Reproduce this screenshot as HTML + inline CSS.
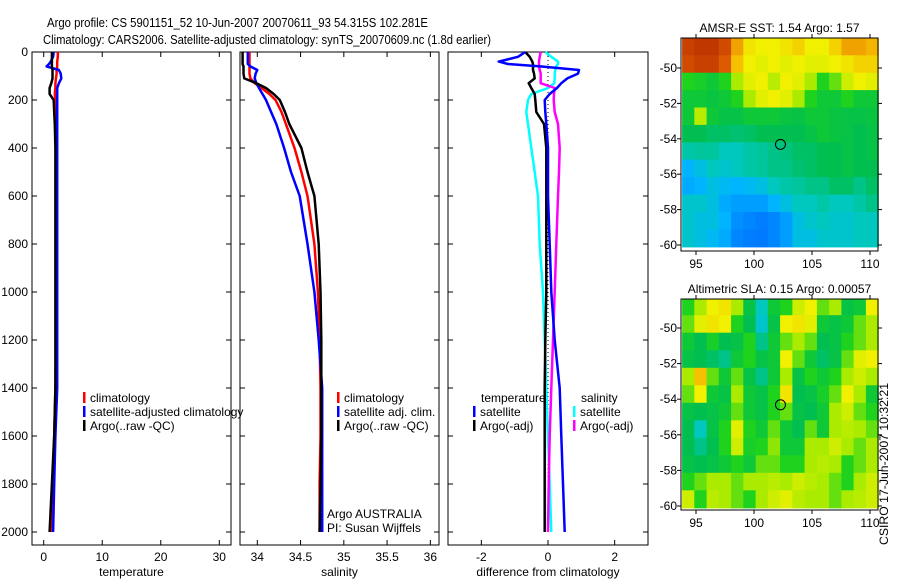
<!DOCTYPE html>
<html><head><meta charset="utf-8"><style>
body{margin:0;background:#fff}
svg{display:block;font-family:"Liberation Sans",sans-serif}
text{fill:#000}
</style></head><body>
<svg id="c" width="900" height="580" viewBox="0 0 900 580">
<text x="47" y="27" font-size="13" textLength="381" lengthAdjust="spacingAndGlyphs">Argo profile: CS 5901151_52 10-Jun-2007 20070611_93 54.315S 102.281E</text>
<text x="43" y="44" font-size="13" textLength="448" lengthAdjust="spacingAndGlyphs">Climatology: CARS2006. Satellite-adjusted climatology: synTS_20070609.nc (1.8d earlier)</text>
<text x="888" y="545" font-size="12" transform="rotate(-90 888 545)" textLength="162" lengthAdjust="spacingAndGlyphs">CSIRO 17-Jun-2007 10:32:21</text>
</svg>
<script>
// ---- profile data ----
const depths = [0,20,40,50,60,75,90,110,130,150,175,200,250,300,400,500,600,800,1000,1200,1400,1600,1800,2000];
const tempClim = [2.4,2.4,2.3,2.3,2.3,2.2,2.2,2.1,2.0,2.0,1.9,2.0,2.1,2.2,2.2,2.2,2.2,2.2,2.2,2.1,2.0,1.8,1.5,1.2];
const tempSat  = [1.7,1.6,1.2,0.9,0.5,2.6,2.9,3.0,2.6,2.3,2.3,2.3,2.3,2.3,2.3,2.3,2.3,2.3,2.3,2.3,2.3,2.0,1.8,1.6];
const tempArgo = [1.4,1.4,1.4,1.4,1.4,1.5,1.5,1.5,1.3,1.0,1.0,1.7,1.8,1.9,2.0,2.0,2.0,2.0,2.0,2.0,2.0,1.8,1.4,1.0];
const salClim = [33.91,33.91,33.91,33.91,33.91,33.91,33.91,33.92,33.97,34.05,34.14,34.21,34.28,34.33,34.43,34.51,34.58,34.66,34.70,34.72,34.73,34.73,34.72,34.72];
const salSat  = [33.89,33.89,33.89,33.89,33.92,34.00,33.98,33.97,33.99,34.02,34.06,34.10,34.16,34.22,34.31,34.39,34.49,34.58,34.66,34.71,34.75,34.75,34.75,34.75];
const salArgo = [33.83,33.83,33.83,33.83,33.84,33.84,33.84,33.85,33.99,34.10,34.19,34.26,34.32,34.37,34.51,34.58,34.66,34.71,34.73,34.74,34.74,34.74,34.73,34.72];
const diffTSat  = [-0.68,-0.9,-1.48,-1.2,-0.23,0.93,0.9,0.58,0.4,0.27,0.05,-0.1,-0.08,-0.05,0.0,0.0,0.0,0.05,0.1,0.2,0.35,0.4,0.45,0.5];
const diffTArgo = [-0.68,-0.55,-0.47,-0.45,-0.45,-0.45,-0.42,-0.4,-0.58,-0.5,-0.4,-0.38,-0.35,-0.12,-0.05,-0.05,-0.05,-0.05,-0.05,-0.08,-0.1,-0.1,-0.1,-0.1];
const diffSSat  = [-0.08,0.1,0.3,0.3,0.25,0.22,0.2,0.2,0.19,0.0,-0.5,-0.6,-0.65,-0.6,-0.5,-0.4,-0.3,-0.25,-0.15,-0.1,-0.05,0.0,0.05,0.1];
const diffSArgo = [-0.22,-0.25,-0.27,-0.27,-0.27,-0.25,-0.22,-0.22,-0.22,0.2,0.18,0.17,0.2,0.3,0.35,0.33,0.3,0.25,0.2,0.15,0.1,0.05,0.02,0.0];
const depthTicks = [0,200,400,600,800,1000,1200,1400,1600,1800,2000];
const tempTicks = [0,10,20,30];
const salTicks = [34,34.5,35,35.5,36];
const salTickLabels = ["34","34.5","35","35.5","36"];
const diffTicks = [-2,0,2];
// ---- map data (rows north->south, cols west->east) ----
const sstGrid = [
[.95,.97,.97,.93,.82,.72,.7,.7,.72,.75,.7,.7,.75,.82,.82,.8],
[.93,.95,.95,.9,.78,.7,.68,.7,.68,.7,.68,.68,.7,.72,.75,.75],
[.5,.48,.45,.5,.6,.68,.7,.62,.7,.68,.6,.5,.55,.65,.7,.68],
[.45,.45,.43,.45,.5,.6,.68,.7,.68,.6,.5,.45,.45,.5,.45,.45],
[.45,.62,.45,.42,.42,.45,.45,.45,.43,.42,.45,.45,.43,.42,.42,.43],
[.4,.4,.38,.38,.37,.38,.4,.4,.4,.4,.42,.45,.43,.42,.4,.42],
[.32,.33,.33,.3,.3,.32,.33,.35,.36,.38,.38,.4,.4,.42,.4,.42],
[.2,.25,.3,.28,.3,.32,.33,.35,.35,.37,.38,.4,.4,.42,.4,.4],
[.18,.2,.25,.22,.2,.22,.25,.3,.32,.33,.35,.35,.38,.38,.35,.38],
[.28,.28,.25,.18,.15,.15,.15,.2,.25,.3,.3,.32,.3,.3,.32,.35],
[.28,.25,.25,.2,.12,.1,.08,.1,.15,.25,.28,.3,.28,.28,.3,.3],
[.28,.25,.22,.18,.1,.08,.07,.1,.15,.25,.25,.28,.28,.28,.3,.3]];
const slaGrid = [
[.5,.6,.7,.72,.6,.42,.3,.45,.5,.65,.7,.55,.6,.42,.45,.7],
[.55,.68,.72,.7,.5,.4,.28,.42,.7,.72,.68,.45,.42,.45,.55,.6],
[.45,.4,.48,.4,.42,.5,.35,.45,.55,.6,.55,.4,.42,.5,.55,.6],
[.42,.4,.38,.35,.45,.5,.42,.45,.7,.55,.45,.38,.42,.55,.68,.7],
[.6,.78,.55,.45,.55,.42,.35,.45,.6,.42,.5,.45,.5,.6,.65,.6],
[.55,.7,.45,.42,.6,.45,.42,.5,.72,.4,.42,.48,.55,.7,.6,.45],
[.42,.4,.42,.45,.55,.45,.42,.5,.55,.42,.4,.45,.6,.65,.55,.5],
[.4,.3,.42,.5,.68,.5,.45,.55,.45,.4,.55,.45,.6,.62,.6,.55],
[.4,.35,.4,.5,.65,.48,.5,.58,.45,.45,.6,.6,.65,.6,.55,.6],
[.42,.4,.42,.45,.5,.45,.55,.55,.5,.5,.6,.62,.6,.5,.55,.6],
[.5,.55,.6,.6,.55,.6,.6,.62,.6,.65,.62,.6,.55,.5,.6,.65],
[.65,.5,.62,.6,.55,.5,.6,.65,.68,.62,.6,.6,.55,.6,.62,.65]];
const latTicks = [-50,-52,-54,-56,-58,-60];
const lonTicks = [95,100,105,110];
const argoLon = 102.281, argoLat = -54.315;

const NS="http://www.w3.org/2000/svg", svg=document.getElementById('c');
function mk(tag,at,parent){const e=document.createElementNS(NS,tag);for(const k in at)e.setAttribute(k,at[k]);(parent||svg).appendChild(e);return e;}
function txt(x,y,s,anchor,size){const t=mk('text',{x:x,y:y,'font-size':size||12,'text-anchor':anchor||'start'});t.textContent=s;return t;}

const yD = d => 52 + d*0.24;
const panels = [
 {name:'temperature',x0:32,x1:231,lo:-2,hi:32,ticks:tempTicks,labels:tempTicks.map(String),xl:'temperature'},
 {name:'salinity',x0:240,x1:439,lo:33.8,hi:36.1,ticks:salTicks,labels:salTickLabels,xl:'salinity'},
 {name:'difference',x0:448,x1:648,lo:-3,hi:3,ticks:diffTicks,labels:diffTicks.map(String),xl:'difference from climatology'}];
panels.forEach((p,i)=>{
  p.sx = v => p.x0 + (v-p.lo)/(p.hi-p.lo)*(p.x1-p.x0);
  const g=mk('g',{});
  
  
  p.g=g;
  const r=mk('rect',{x:p.x0,y:52,width:p.x1-p.x0,height:493,fill:'none',stroke:'#000','stroke-width':1},g);
  
  
  depthTicks.forEach(d=>{
    mk('line',{x1:p.x0,x2:p.x0+5,y1:yD(d),y2:yD(d),stroke:'#000'},g);
    mk('line',{x1:p.x1,x2:p.x1-5,y1:yD(d),y2:yD(d),stroke:'#000'},g);
    if(i===0){const t=txt(28,yD(d)+4,String(d),'end');
      
      }
  });
  p.ticks.forEach((v,k)=>{
    const x=p.sx(v);
    mk('line',{x1:x,x2:x,y1:52,y2:57,stroke:'#000'},g);
    mk('line',{x1:x,x2:x,y1:545,y2:540,stroke:'#000'},g);
    const t=txt(x,561,p.labels[k],'middle');
    
    
  });
  const xl=txt((p.x0+p.x1)/2,576,p.xl,'middle');
  
  
});
function line(p,vals,col,name,w){
  const pts=vals.map((v,k)=>p.sx(v).toFixed(1)+','+yD(depths[k]).toFixed(1)).join(' ');
  const l=mk('polyline',{points:pts,fill:'none',stroke:col,'stroke-width':w||2.5,'stroke-linejoin':'round'},p.g);
  
  
}
const [pT,pS,pD]=panels;
// zero line in diff panel
const z=mk('line',{x1:pD.sx(0),x2:pD.sx(0),y1:52,y2:yD(2000),stroke:'#000','stroke-dasharray':'1,3'},pD.g);


line(pT,tempClim,'#f00','temp-climatology-line');
line(pT,tempSat,'#00f','temp-satellite-line');
line(pT,tempArgo,'#000','temp-argo-line');
line(pS,salClim,'#f00','sal-climatology-line');
line(pS,salSat,'#00f','sal-satellite-line');
line(pS,salArgo,'#000','sal-argo-line');
line(pD,diffSSat,'#0ff','diff-sal-satellite-line');
line(pD,diffSArgo,'#f0f','diff-sal-argo-line');
line(pD,diffTArgo,'#000','diff-temp-argo-line');
line(pD,diffTSat,'#00f','diff-temp-satellite-line');

function legend(x,y,col,label,name){
  if(col){const r=mk('rect',{x:x,y:y-10,width:2.5,height:11,fill:col});
    
    }
  const t=txt(x+7,y,label,'start',12);
  
  
}
legend(83,402,'#f00','climatology','legend-climatology');
legend(83,416,'#00f','satellite-adjusted climatology','legend-satellite-adjusted');
legend(83,430,'#000','Argo(..raw -QC)','legend-argo');
legend(337,402,'#f00','climatology','legend-sal-climatology');
legend(337,416,'#00f','satellite adj. clim.','legend-sal-satellite');
legend(337,430,'#000','Argo(..raw -QC)','legend-sal-argo');
legend(474,402,null,'temperature','legend-temperature-header');
legend(473,416,'#00f','satellite','legend-diff-temp-satellite');
legend(473,430,'#000','Argo(-adj)','legend-diff-temp-argo');
legend(574,402,null,'salinity','legend-salinity-header');
legend(573,416,'#0ff','satellite','legend-diff-sal-satellite');
legend(573,430,'#f0f','Argo(-adj)','legend-diff-sal-argo');
const a1=txt(327,518,'Argo AUSTRALIA','start',12);


const a2=txt(327,532,'PI: Susan Wijffels','start',12);



// ---- maps ----
const stops=[[0,[0,90,255]],[.2,[0,180,255]],[.3,[0,200,190]],[.4,[0,190,80]],[.5,[30,210,30]],[.6,[170,235,0]],[.7,[240,240,0]],[.8,[245,180,0]],[.9,[220,90,0]],[1,[180,40,0]]];
function cmap(v){for(let i=1;i<stops.length;i++){if(v<=stops[i][0]){const [a,ca]=stops[i-1],[b,cb]=stops[i];const f=(v-a)/(b-a);return 'rgb('+ca.map((c,k)=>Math.round(c+(cb[k]-c)*f)).join(',')+')';}}return 'rgb(180,40,0)';}
function map(name,title,grid,top,bot,lat50y,lat60y){
  const x0=681,x1=878;
  const sx=lon=>696+(lon-95)*11.6;
  const sy=lat=>lat50y+(-50-lat)*(lat60y-lat50y)/10;
  const g=mk('g',{});
  
  
  const t=txt((x0+x1)/2,top-6,title,'middle',12);
  
  
  const lonA=93.8,lonB=110.7,latA=-48.3,latB=-60.1;
  const nr=grid.length,nc=grid[0].length;
  grid.forEach((row,r)=>row.forEach((v,c)=>{
    const xa=sx(lonA+(lonB-lonA)*c/nc), xb=sx(lonA+(lonB-lonA)*(c+1)/nc);
    const ya=Math.max(top,sy(latA+(latB-latA)*r/nr)), yb=sy(latA+(latB-latA)*(r+1)/nr);
    const cell=mk('rect',{x:xa.toFixed(1),y:ya.toFixed(1),width:(xb-xa+0.6).toFixed(1),height:(yb-ya+0.6).toFixed(1),fill:cmap(v)},g);
    
    
  }));
  const fr=mk('rect',{x:x0,y:top,width:x1-x0,height:bot-top,fill:'none',stroke:'#000'},g);
  
  
  latTicks.forEach(l=>{const y=sy(l);
    mk('line',{x1:x0,x2:x0-4,y1:y,y2:y,stroke:'#000'},g);
    mk('line',{x1:x1,x2:x1+4,y1:y,y2:y,stroke:'#000'},g);
    const tl=txt(x0-4,y+4,String(l),'end',12);
    
    });
  lonTicks.forEach(l=>{const x=sx(l);
    mk('line',{x1:x,x2:x,y1:bot,y2:bot+4,stroke:'#000'},g);
    mk('line',{x1:x,x2:x,y1:top,y2:top-4,stroke:'#000'},g);
    const tl=txt(x,bot+17,String(l),'middle',12);
    
    });
  const c=mk('circle',{cx:sx(argoLon),cy:sy(argoLat),r:5,fill:'none',stroke:'#000','stroke-width':1},g);
  
  
}
map('sst','AMSR-E SST: 1.54 Argo: 1.57',sstGrid,38,251,68,245);
map('sla','Altimetric SLA: 0.15 Argo: 0.00057',slaGrid,299,510,328,506);
</script>
</body></html>
